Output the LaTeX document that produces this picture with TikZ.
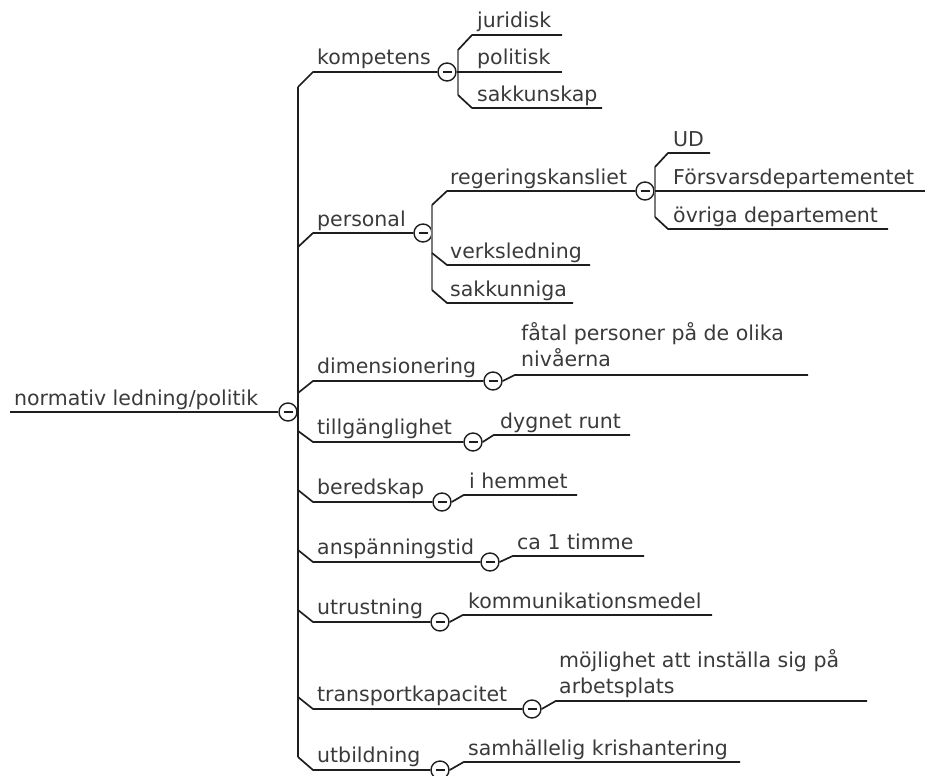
\documentclass[tikz,border=0pt]{standalone}
\usepackage{fontspec}
\setmainfont{DejaVu Sans}
\definecolor{txtc}{HTML}{3A3A3A}
\definecolor{linec}{HTML}{1E1E1E}
\definecolor{trkc}{HTML}{7A7A7A}
\begin{document}
\begin{tikzpicture}[x=1pt,y=-1pt,
  lbl/.style={anchor=base west, inner sep=0pt, text=txtc,
    font=\fontsize{20.5}{25.5}\selectfont},
  ln/.style={draw=linec, line width=1.7pt, line join=round},
  trk/.style={draw=linec, line width=2.6pt},
  subtrk/.style={draw=trkc, line width=2.6pt},
  tog/.style={circle, draw=linec, fill=white, line width=1.4pt,
    minimum size=18pt, inner sep=0pt,
    path picture={\draw[draw=linec, line width=1.3pt]
      ([xshift=-4.5pt]path picture bounding box.center) --
      ([xshift=4.5pt]path picture bounding box.center);}},
]
\useasboundingbox (0,0) rectangle (926,776);

% root
\node[tog] (c0) at (288,412) {};
\coordinate (r0) at (10,412);
\node[lbl] (t0) at (14,405) {normativ ledning/politik};
\draw[ln] (r0) -- (c0.west);

% main trunk
\coordinate (k1) at (298,87);
\coordinate (k2) at (298,247);
\coordinate (k3) at (298,393);
\coordinate (k4) at (298,431);
\coordinate (k5) at (298,490);
\coordinate (k6) at (298,550);
\coordinate (k7) at (298,610);
\coordinate (k8) at (298,697);
\coordinate (k9) at (298,757);
\draw[trk] (k1) -- (k9);

% first-level topics
\node[tog] (c1) at (447,72) {};
\node[tog] (c2) at (423,233) {};
\node[tog] (c3) at (493,381) {};
\node[tog] (c4) at (473,442) {};
\node[tog] (c5) at (442,502) {};
\node[tog] (c6) at (490,562) {};
\node[tog] (c7) at (440,622) {};
\node[tog] (c8) at (532,709) {};
\node[tog] (c9) at (440,770) {};

\node[lbl] (t1) at (317,65) {kompetens};
\node[lbl] (t2) at (317,226) {personal};
\node[lbl] (t3) at (317,373) {dimensionering};
\node[lbl] (t4) at (317,434) {tillgänglighet};
\node[lbl] (t5) at (317,494) {beredskap};
\node[lbl] (t6) at (317,554) {anspänningstid};
\node[lbl] (t7) at (317,614) {utrustning};
\node[lbl] (t8) at (317,701) {transportkapacitet};
\node[lbl] (t9) at (317,762) {utbildning};

\draw[ln] (k1) -- ++(15,-15) -- (c1.west);
\draw[ln] (k2) -- ++(15,-14) -- (c2.west);
\draw[ln] (k3) -- ++(15,-12) -- (c3.west);
\draw[ln] (k4) -- ++(15,11) -- (c4.west);
\draw[ln] (k5) -- ++(15,12) -- (c5.west);
\draw[ln] (k6) -- ++(15,12) -- (c6.west);
\draw[ln] (k7) -- ++(15,12) -- (c7.west);
\draw[ln] (k8) -- ++(15,12) -- (c8.west);
\draw[ln] (k9) -- ++(15,13) -- (c9.west);

% kompetens
\coordinate (s1a) at (458,50);
\coordinate (s1b) at (458,95);
\coordinate (e11) at (562,35);
\coordinate (e12) at (562,72);
\coordinate (e13) at (602,108);
\draw[subtrk] (s1a) -- (s1b);
\draw[ln] (s1a) -- ++(14,-15) -- (e11);
\draw[ln] (c1.east) -- (e12);
\draw[ln] (s1b) -- ++(14,13) -- (e13);
\node[lbl] (t11) at (477,28) {juridisk};
\node[lbl] (t12) at (477,65) {politisk};
\node[lbl] (t13) at (477,101) {sakkunskap};

% personal
\coordinate (s2a) at (432,205);
\coordinate (s2b) at (432,253);
\coordinate (s2c) at (432,290);
\node[tog] (c21) at (645,191) {};
\coordinate (e22) at (590,265);
\coordinate (e23) at (573,303);
\draw[subtrk] (s2a) -- (s2c);
\draw[ln] (s2a) -- ++(15,-14) -- (c21.west);
\draw[ln] (s2b) -- ++(15,12) -- (e22);
\draw[ln] (s2c) -- ++(15,13) -- (e23);
\node[lbl] (t21) at (450,184) {regeringskansliet};
\node[lbl] (t22) at (450,258) {verksledning};
\node[lbl] (t23) at (450,296) {sakkunniga};

% regeringskansliet
\coordinate (s3a) at (655,167);
\coordinate (s3b) at (655,217);
\coordinate (e31) at (710,153);
\coordinate (e32) at (925,191);
\coordinate (e33) at (888,229);
\draw[subtrk] (s3a) -- (s3b);
\draw[ln] (s3a) -- ++(13,-14) -- (e31);
\draw[ln] (c21.east) -- (e32);
\draw[ln] (s3b) -- ++(13,12) -- (e33);
\node[lbl] (t31) at (673,146) {UD};
\node[lbl] (t32) at (673,184) {Försvarsdepartementet};
\node[lbl] (t33) at (673,222) {övriga departement};

% single leaves
\coordinate (e3) at (808,375);
\coordinate (e4) at (630,435);
\coordinate (e5) at (577,495);
\coordinate (e6) at (644,556);
\coordinate (e7) at (712,615);
\coordinate (e8) at (867,701);
\coordinate (e9) at (740,762);
\draw[ln] (c3.east) -- ++(12,-6) -- (e3);
\draw[ln] (c4.east) -- ++(11,-7) -- (e4);
\draw[ln] (c5.east) -- ++(12,-7) -- (e5);
\draw[ln] (c6.east) -- ++(13,-6) -- (e6);
\draw[ln] (c7.east) -- ++(13,-7) -- (e7);
\draw[ln] (c8.east) -- ++(14,-8) -- (e8);
\draw[ln] (c9.east) -- ++(14,-8) -- (e9);

\node[lbl] (l3) at (521,366) {\begin{tabular}[b]{@{}l@{}}fåtal personer på de olika\\ nivåerna\end{tabular}};
\node[lbl] (l4) at (500,428) {dygnet runt};
\node[lbl] (l5) at (469,488) {i hemmet};
\node[lbl] (l6) at (517,549) {ca 1 timme};
\node[lbl] (l7) at (468,608) {kommunikationsmedel};
\node[lbl] (l8) at (559,693) {\begin{tabular}[b]{@{}l@{}}möjlighet att inställa sig på\\ arbetsplats\end{tabular}};
\node[lbl] (l9) at (468,755) {samhällelig krishantering};
\end{tikzpicture}
\end{document}
